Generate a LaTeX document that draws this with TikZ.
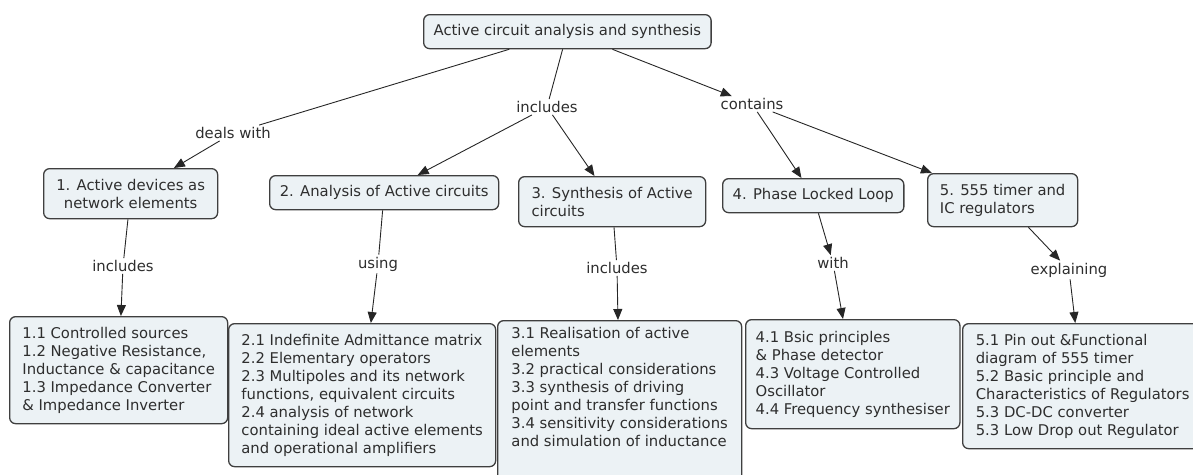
\documentclass[tikz,border=0pt]{standalone}
\usepackage{fontspec}
\setmainfont{DejaVu Sans}
\usetikzlibrary{arrows.meta}
\definecolor{conceptfill}{HTML}{ECF2F5}
\definecolor{conceptline}{HTML}{3F3F3F}
\definecolor{concepttext}{HTML}{2E2E2E}
\begin{document}
\begin{tikzpicture}[x=1pt,y=-1pt,
  concept/.style={draw=conceptline,line width=1.3pt,fill=conceptfill,rounded corners=6pt,
    text=concepttext,font=\fontsize{14.8pt}{18pt}\selectfont,inner xsep=10pt,inner ysep=5pt,anchor=north west},
  linkword/.style={text=concepttext,font=\fontsize{14.8pt}{18pt}\selectfont,inner sep=2pt},
  link/.style={draw=black!85,line width=0.9pt},
  linkarrow/.style={link,-{Triangle[length=11pt,width=9pt]}}]
\useasboundingbox (0,0) rectangle (1193,474);
\clip (0,0) rectangle (1193,474);
\node[concept,minimum width=287pt,minimum height=34pt,align=center] (root) at (423,14) {Active circuit analysis and synthesis};
\node[concept,minimum width=174pt,minimum height=50pt,align=center] (b1) at (43,168) {1. Active devices as\\network elements};
\node[concept,minimum width=229pt,minimum height=34pt,align=center] (b2) at (269,175) {2. Analysis of Active circuits};
\node[concept,minimum width=187pt,minimum height=50pt,align=left] (b3) at (518,176) {3. Synthesis of Active\\circuits};
\node[concept,minimum width=180pt,minimum height=34pt,align=center] (b4) at (722,178) {4. Phase Locked Loop};
\node[concept,minimum width=150pt,minimum height=53pt,align=left] (b5) at (927,173) {5. 555 timer and\\IC regulators};
\node[concept,minimum width=218pt,minimum height=107pt,align=left] (c1) at (9,316) {1.1 Controlled sources\\1.2 Negative Resistance,\\Inductance \& capacitance\\1.3 Impedance Converter\\\& Impedance Inverter};
\node[concept,minimum width=267pt,minimum height=143pt,align=left] (c2) at (228,323) {2.1 Indefinite Admittance matrix\\2.2 Elementary operators\\2.3 Multipoles and its network\\functions, equivalent circuits\\2.4 analysis of network\\containing ideal active elements\\and operational amplifiers};
\node[concept,minimum width=244pt,text depth=45pt,inner ysep=7pt,align=left] (c3) at (497,320) {3.1 Realisation of active\\elements\\3.2 practical considerations\\3.3 synthesis of driving\\point and transfer functions\\3.4 sensitivity considerations\\and simulation of inductance};
\node[concept,minimum width=205pt,minimum height=109pt,align=left] (c4) at (745,319) {4.1 Bsic principles\\\& Phase detector\\4.3 Voltage Controlled\\Oscillator\\4.4 Frequency synthesiser};
\node[concept,minimum width=240pt,minimum height=125pt,align=left] (c5) at (962,323) {5.1 Pin out \&Functional\\diagram of 555 timer\\5.2 Basic principle and\\Characteristics of Regulators\\5.3 DC-DC converter\\5.3 Low Drop out Regulator};
\node[linkword] (dealswith) at (233,133) {deals with};
\node[linkword] (includestop) at (547,107) {includes};
\node[linkword] (contains) at (752,104) {contains};
\node[linkword] (includesone) at (123,266) {includes};
\node[linkword] (using) at (378,264) {using};
\node[linkword] (includesthree) at (617,268) {includes};
\node[linkword] (with) at (833,263) {with};
\node[linkword] (explaining) at (1069,270) {explaining};
\draw[link] (root) -- (dealswith);
\draw[linkarrow] (dealswith) -- (b1);
\draw[link] (root) -- (includestop);
\draw[linkarrow] (includestop) -- (b2);
\draw[linkarrow] (includestop) -- (b3);
\draw[linkarrow] (root) -- (contains);
\draw[linkarrow] (contains) -- (b4);
\draw[linkarrow] (contains) -- (b5);
\draw[link] (b1) -- (includesone);
\draw[linkarrow] (includesone) -- (c1);
\draw[link] (b2) -- (using);
\draw[linkarrow] (using) -- (c2);
\draw[link] (b3) -- (includesthree);
\draw[linkarrow] (includesthree) -- (c3);
\draw[linkarrow] (b4) -- (with);
\draw[linkarrow] (with) -- (c4);
\draw[linkarrow] (b5) -- (explaining);
\draw[linkarrow] (explaining) -- (c5);
\end{tikzpicture}
\end{document}
